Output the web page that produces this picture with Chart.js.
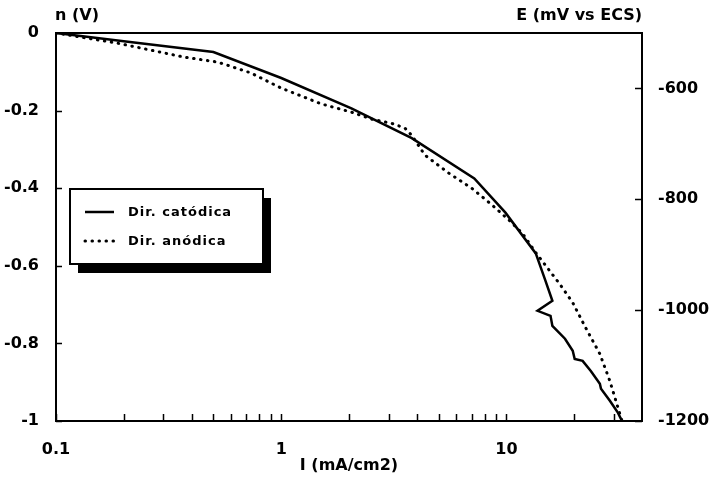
<!DOCTYPE html>
<html>
<head>
<meta charset="utf-8">
<script src="https://cdn.jsdelivr.net/npm/chart.js@4"></script>
<style>
  html, body { margin: 0; padding: 0; background: #fff; }
  canvas { display: block; }
</style>
</head>
<body>
<canvas id="chart" width="712" height="477"></canvas>
<script>
// current density (mA/cm2) and overpotential (V)
const cathodicI = [0.1, 0.2, 0.5, 1.0, 2.05, 3.8, 7.2, 9.9, 13.5, 14.9, 16.0, 13.75, 15.7, 16.0, 18.2, 19.7, 20.1, 21.8, 23.7, 26.0, 26.3, 28.8, 31.3, 32.6]
const cathodicEta = [0, -0.021, -0.049, -0.116, -0.194, -0.271, -0.375, -0.463, -0.568, -0.638, -0.690, -0.716, -0.729, -0.755, -0.788, -0.819, -0.840, -0.845, -0.871, -0.904, -0.917, -0.948, -0.979, -1.0]

const anodicI = [0.1, 0.187, 0.369, 0.523, 0.734, 1.0, 1.51, 2.05, 2.52, 3.10, 3.54, 3.80, 4.35, 5.57, 7.05, 8.66, 10.3, 11.8, 13.5, 17.2, 19.7, 22.5, 26.0, 28.8, 31.3, 32.6]
const anodicEta = [0, -0.026, -0.062, -0.075, -0.103, -0.142, -0.183, -0.204, -0.222, -0.233, -0.245, -0.264, -0.315, -0.362, -0.401, -0.444, -0.483, -0.517, -0.566, -0.646, -0.695, -0.760, -0.827, -0.897, -0.966, -1.0]

const seriesNames = ['Dir. catódica', 'Dir. anódica']

const xLabelTicks = [0.1, 1, 10]
const xMinorTicks = [0.2, 0.3, 0.4, 0.5, 0.6, 0.7, 0.8, 0.9, 2, 3, 4, 5, 6, 7, 8, 9, 20, 30]
const etaTicks = [0, -0.2, -0.4, -0.6, -0.8, -1]
const eTicks = [-1200, -1000, -800, -600]

const FONT = 'DejaVu Sans'

const toPoints = (xs, ys) => xs.map((x, i) => ({ x: x, y: ys[i] }))

// ticks pointing into the plot, frame, top labels and the boxed legend
const decorations = {
    id: 'decorations',
    afterDraw(chart) {
        const ctx = chart.ctx
        const a = chart.chartArea
        const sx = chart.scales.x, sy = chart.scales.y, sy2 = chart.scales.y2
        ctx.save()
        ctx.strokeStyle = '#000'
        ctx.lineWidth = 2
        ctx.strokeRect(a.left, a.top, a.right - a.left, a.bottom - a.top)

        ctx.lineWidth = 1.5
        ctx.beginPath()
        xLabelTicks.concat(xMinorTicks).forEach(v => {
            const px = Math.round(sx.getPixelForValue(v)) + 0.5
            ctx.moveTo(px, a.bottom)
            ctx.lineTo(px, a.bottom - 7)
        })
        etaTicks.forEach(v => {
            const py = Math.round(sy.getPixelForValue(v)) + 0.5
            ctx.moveTo(a.left, py)
            ctx.lineTo(a.left + 6, py)
        })
        eTicks.forEach(v => {
            const py = Math.round(sy2.getPixelForValue(v)) + 0.5
            ctx.moveTo(a.right, py)
            ctx.lineTo(a.right - 7, py)
        })
        ctx.stroke()

        ctx.fillStyle = '#000'
        ctx.font = 'bold 16px "' + FONT + '"'
        ctx.textBaseline = 'middle'
        ctx.textAlign = 'left'
        ctx.fillText('n (V)', a.left - 1, 16)
        ctx.textAlign = 'right'
        ctx.fillText('E (mV vs ECS)', a.right, 16)

        // legend box with drop shadow
        const lx = a.left + 14, ly = a.top + 156, lw = 193, lh = 75
        ctx.fillRect(lx + 8, ly + 9, lw, lh)
        ctx.fillStyle = '#fff'
        ctx.fillRect(lx, ly, lw, lh)
        ctx.lineWidth = 2
        ctx.strokeRect(lx, ly, lw, lh)

        ctx.font = 'bold 13px "' + FONT + '"'
        ctx.letterSpacing = '1px'
        ctx.textAlign = 'left'
        ctx.fillStyle = '#000'
        chart.data.datasets.forEach((ds, i) => {
            const y = ly + 23 + i * 29
            ctx.save()
            ctx.strokeStyle = ds.borderColor
            ctx.lineWidth = ds.borderWidth
            ctx.lineCap = ds.borderCapStyle || 'butt'
            ctx.setLineDash(ds.borderDash || [])
            ctx.beginPath()
            ctx.moveTo(lx + 15, y)
            ctx.lineTo(lx + 44, y)
            ctx.stroke()
            ctx.restore()
            ctx.fillText(ds.label, lx + 58, y + 1)
        })
        ctx.restore()
    }
}

const ctx = document.getElementById('chart').getContext('2d')

new Chart(ctx, {
    type: 'line',
    data: {
        datasets: [{
            label: seriesNames[0],
            data: toPoints(cathodicI, cathodicEta),
            borderColor: '#000',
            borderWidth: 2.5,
            pointRadius: 0,
            tension: 0,
            yAxisID: 'y'
        }, {
            label: seriesNames[1],
            data: toPoints(anodicI, anodicEta),
            borderColor: '#000',
            borderWidth: 3,
            borderDash: [0.5, 6.5],
            borderCapStyle: 'round',
            pointRadius: 0,
            tension: 0,
            yAxisID: 'y'
        }]
    },
    options: {
        responsive: false,
        devicePixelRatio: 1,
        animation: false,
        layout: { padding: { top: 33, left: 0, right: 0, bottom: 0 } },
        plugins: {
            legend: { display: false },
            tooltip: { enabled: false }
        },
        scales: {
            x: {
                type: 'logarithmic',
                min: 0.1,
                max: 40,
                afterBuildTicks: axis => { axis.ticks = xLabelTicks.map(v => ({ value: v })) },
                afterFit: axis => { axis.height = 56 },
                grid: { display: false },
                border: { display: false },
                ticks: {
                    color: '#000',
                    font: { family: FONT, size: 16, weight: 'bold' },
                    padding: 11,
                    maxRotation: 0,
                    autoSkip: false,
                    callback: v => String(v)
                },
                title: {
                    display: true,
                    text: 'I (mA/cm2)',
                    color: '#000',
                    font: { family: FONT, size: 16, weight: 'bold' },
                    padding: { top: 0, bottom: 2 }
                }
            },
            y: {
                position: 'left',
                min: -1,
                max: 0,
                afterBuildTicks: axis => { axis.ticks = etaTicks.map(v => ({ value: v })) },
                afterFit: axis => { axis.width = 56 },
                grid: { display: false },
                border: { display: false },
                ticks: {
                    color: '#000',
                    font: { family: FONT, size: 16, weight: 'bold' },
                    padding: 9,
                    callback: v => v === 0 ? '0' : (v === -1 ? '-1' : '-' + Math.abs(v).toFixed(1))
                }
            },
            y2: {
                position: 'right',
                min: -1200,
                max: -500,
                afterBuildTicks: axis => { axis.ticks = eTicks.map(v => ({ value: v })) },
                afterFit: axis => { axis.width = 70 },
                grid: { display: false },
                border: { display: false },
                ticks: {
                    color: '#000',
                    font: { family: FONT, size: 16, weight: 'bold' },
                    padding: 8,
                    callback: v => '-' + Math.abs(v)
                }
            }
        }
    },
    plugins: [decorations]
})
</script>
</body>
</html>
